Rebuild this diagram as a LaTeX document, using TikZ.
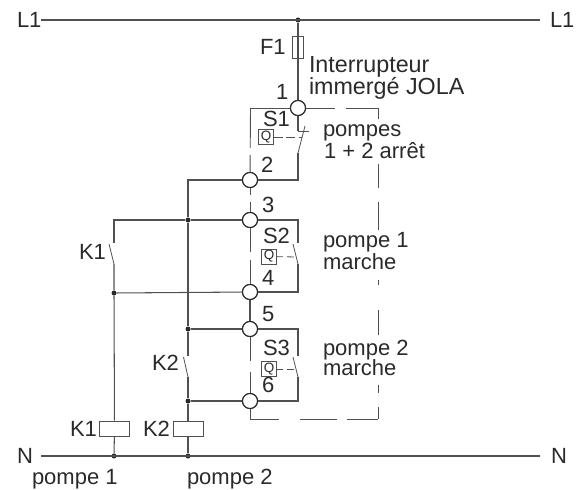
\documentclass[tikz,border=0pt]{standalone}
\usepackage{fontspec}
\setmainfont{Liberation Sans}
\definecolor{wire}{HTML}{505050}
\definecolor{ink}{HTML}{2A2A2A}
\tikzset{
  wireline/.style={draw=wire,line width=1.05pt},
  thinline/.style={draw=wire,line width=0.8pt},
  term/.style={circle,draw=ink,line width=1.1pt,fill=white,inner sep=0pt,minimum size=15pt},
  dot/.style={circle,fill=ink,inner sep=0pt,minimum size=5pt},
  coil/.style={rectangle,draw=wire,line width=1pt,fill=white,inner sep=0pt,minimum width=30pt,minimum height=15pt},
  fuse/.style={rectangle,draw=wire,line width=1pt,inner sep=0pt,minimum width=11pt,minimum height=22pt},
  qbox/.style={rectangle,draw=wire,line width=0.9pt,fill=white,inner sep=0pt,minimum width=15pt,minimum height=15pt,text=ink,font=\fontsize{13.5}{13.5}\selectfont},
  lab/.style={anchor=base west,inner sep=0pt,outer sep=0pt,text=ink,font=\fontsize{22}{24}\selectfont},
  labbig/.style={lab,font=\fontsize{23.3}{24}\selectfont},
}
\begin{document}
\begin{tikzpicture}[x=1pt,y=-1pt]
\useasboundingbox (0,0) rectangle (585,489);
% terminals
\node[term] (c1) at (298,108) {};
\node[term] (c2) at (250,180) {};
\node[term] (c3) at (250,220) {};
\node[term] (c4) at (250,292) {};
\node[term] (c5) at (250,329) {};
\node[term] (c6) at (250,401) {};
% dots
\node[dot] (jL) at (298,20) {};
\node[dot] (j3) at (188,220) {};
\node[dot] (j4) at (114,293) {};
\node[dot] (j5) at (188,329) {};
\node[dot] (j6) at (188,401) {};
\node[dot] (jN1) at (114,456) {};
\node[dot] (jN2) at (188,456) {};
% coils and fuse
\node[coil] (k1c) at (114.5,428.5) {};
\node[coil] (k2c) at (188,428.5) {};
\node[fuse] (f1) at (298,48) {};
% free ends
\coordinate (L1a) at (40.5,20); \coordinate (L1b) at (540,20);
\coordinate (Na) at (41,456);   \coordinate (Nb) at (540,456);
\coordinate (tl) at (250.5,108); \coordinate (tr) at (378,108);
\coordinate (br) at (378,419);  \coordinate (bl) at (250,419);
\coordinate (s1a) at (298,131); \coordinate (s1t) at (309,131);
\coordinate (s1m) at (305,126); \coordinate (s1b) at (298,153);
\coordinate (s1c) at (298,180); \coordinate (s1d) at (302,137);
\coordinate (s2a) at (298,220); \coordinate (s2b) at (298,243);
\coordinate (s2m) at (293,244); \coordinate (s2n) at (298,264);
\coordinate (s2c) at (298,292); \coordinate (s2d) at (297,257);
\coordinate (s3a) at (298,329); \coordinate (s3b) at (298,356);
\coordinate (s3m) at (293,357); \coordinate (s3n) at (298,377);
\coordinate (s3c) at (298,401); \coordinate (s3d) at (297,369);
\coordinate (r2t) at (188,180);
\coordinate (k1a) at (114,220); \coordinate (k1b) at (114,243);
\coordinate (k1m) at (109,244); \coordinate (k1n) at (114,264);
\coordinate (k2b) at (188,356); \coordinate (k2m) at (183.5,357); \coordinate (k2n) at (188,377);
% mains
\draw[wireline] (L1a) -- (L1b);
\draw[wireline] (Na) -- (Nb);
\draw[wireline] (jL) -- (c1);
% S1
\draw[wireline] (c1) -- (s1a);
\draw[thinline] (s1a) -- (s1t);
\draw[thinline] (s1m) -- (s1b);
\draw[wireline] (s1b) -- (s1c) -- (c2);
% S2, S3
\draw[wireline] (c3) -- (s2a) -- (s2b);
\draw[thinline] (s2m) -- (s2n);
\draw[wireline] (s2n) -- (s2c) -- (c4);
\draw[wireline] (c5) -- (s3a) -- (s3b);
\draw[thinline] (s3m) -- (s3n);
\draw[wireline] (s3n) -- (s3c) -- (c6);
% left rails
\draw[wireline] (c2) -- (r2t) -- (j3) -- (j5) -- (k2b);
\draw[thinline] (k2m) -- (k2n);
\draw[wireline] (k2n) -- (j6) -- (k2c) -- (jN2);
\draw[wireline] (j5) -- (c5);
\draw[wireline] (j6) -- (c6);
\draw[wireline] (c3) -- (j3) -- (k1a) -- (k1b);
\draw[thinline] (k1m) -- (k1n);
\draw[wireline] (k1n) -- (j4) -- (k1c) -- (jN1);
\draw[wireline] (j4) -- (c4);
\draw[wireline] (c4) -- (c5);
% dashed housing
\begin{scope}[thinline,line width=0.9pt]
\draw (tl) -- (c1);
\draw[dash pattern=on 37pt off 11pt on 40pt] (c1.center) -- (tr);
\draw[dash pattern=on 11pt off 45pt on 24pt off 14pt on 28pt off 50pt on 5pt off 25pt on 25pt off 50pt on 8pt off 14pt on 12pt] (tr) -- (br);
\draw[dash pattern=on 29pt off 21pt on 37pt off 10pt on 40pt] (bl) -- (br);
\draw (c6) -- (bl);
\draw[dash pattern=on 40pt off 7pt on 40pt] (tl) -- (c2);
\draw[dash pattern=on 15pt off 7pt on 40pt] (c2.center) -- (c3);
\draw[dash pattern=on 32pt off 8pt on 40pt] (c3.center) -- (c4);
\draw[dash pattern=on 32pt off 11pt on 40pt] (c5.center) -- (c6);
\end{scope}
% redraw terminals above their lines
\foreach \n/\p in {a/c1,b/c2,c/c3,d/c4,e/c5,f/c6}{\node[term] (o\n) at (\p) {};}
% Q boxes
\node[qbox,minimum width=14.5pt,minimum height=14.5pt] (q1) at (266,137) {Q};
\node[qbox] (q2) at (269,256.5) {Q};
\node[qbox] (q3) at (269,369) {Q};
\draw[thinline,dash pattern=on 9pt off 3.5pt] (q1) -- (s1d);
\draw[thinline,dash pattern=on 6pt off 4pt on 7pt off 4pt] (q2) -- (s2d);
\draw[thinline,dash pattern=on 6pt off 4pt on 7pt off 4pt] (q3) -- (s3d);
% labels
\node[lab] (tL1a) at (17,28) {L1};
\node[lab] (tL1b) at (550,28) {L1};
\node[lab] (tF1) at (260,55) {F1};
\node[labbig] (tI) at (309,73) {Interrupteur};
\node[labbig] (tJ) at (309,95) {immergé JOLA};
\node[lab] (t1) at (276,100) {1};
\node[lab] (tS1) at (263,127) {S1};
\node[lab] (tp12) at (323,137) {pompes};
\node[lab] (ta12) at (324,158) {1 + 2 arrêt};
\node[lab] (t2) at (261,172) {2};
\node[lab] (t3) at (262,212) {3};
\node[lab] (tS2) at (263,243) {S2};
\node[lab] (t4) at (262,285) {4};
\node[lab] (t5) at (262,321) {5};
\node[lab] (tS3) at (263,355) {S3};
\node[lab] (t6) at (262,392) {6};
\node[lab] (tp1) at (323,247) {pompe 1};
\node[lab] (tm1) at (323,269) {marche};
\node[lab] (tp2) at (323,355) {pompe 2};
\node[lab] (tm2) at (323,375) {marche};
\node[lab] (tK1u) at (79,259) {K1};
\node[lab] (tK2u) at (152,370) {K2};
\node[lab] (tK1l) at (70,436) {K1};
\node[lab] (tK2l) at (143,436) {K2};
\node[lab] (tNa) at (17,463) {N};
\node[lab] (tNb) at (551,463) {N};
\node[lab] (tb1) at (32,484) {pompe 1};
\node[lab] (tb2) at (187,484) {pompe 2};
\end{tikzpicture}
\end{document}
